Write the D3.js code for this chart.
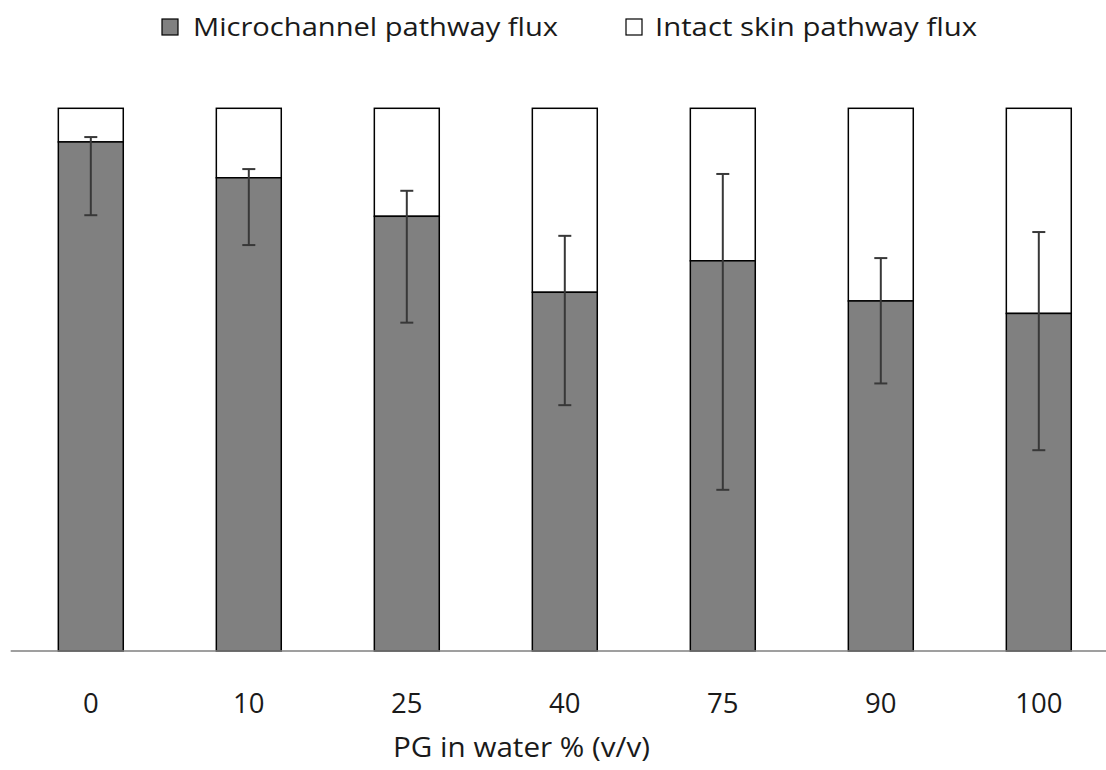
<!DOCTYPE html>
<html>
<head>
<meta charset="utf-8">
<script src="https://cdn.jsdelivr.net/npm/d3@7"></script>
<style>
  html, body { margin: 0; padding: 0; background: #fff; }
  svg { display: block; }
  text { font-family: "Open Sans", "Noto Sans", sans-serif; fill: #1a1a1a; }
</style>
</head>
<body>
<svg id="chart" width="1106" height="770"></svg>
<script>
// ---- data (percent of total flux) ----
const categories = ["0", "10", "25", "40", "75", "90", "100"];
const microchannel = [93.8, 87.2, 80.1, 66.1, 71.9, 64.5, 62.2];
const intactSkin = microchannel.map(v => 100 - v);
const errUpper = [94.7, 88.8, 84.8, 76.5, 87.9, 72.4, 77.2];
const errLower = [80.3, 74.8, 60.5, 45.3, 29.7, 49.3, 37.0];
const seriesNames = ["Microchannel pathway flux", "Intact skin pathway flux"];
const xTitle = "PG in water % (v/v)";

const svg = d3.select("#chart");

const x = d3.scaleBand()
  .domain(categories)
  .range([11.8, 1117.8])
  .paddingInner(0.589)
  .paddingOuter(0.2945);

const y = d3.scaleLinear().domain([0, 100]).range([651, 108.3]);

const data = categories.map((c, i) => ({
  cat: c, micro: microchannel[i], intact: intactSkin[i], hi: errUpper[i], lo: errLower[i]
}));

// intact (top, white) segments
svg.append("g").selectAll("rect")
  .data(data).join("rect")
  .attr("x", d => x(d.cat))
  .attr("width", x.bandwidth())
  .attr("y", d => y(d.micro + d.intact))
  .attr("height", d => y(d.micro) - y(d.micro + d.intact))
  .attr("fill", "#ffffff")
  .attr("stroke", "#000")
  .attr("stroke-width", 1.5);

// microchannel (bottom, gray) segments
svg.append("g").selectAll("rect")
  .data(data).join("rect")
  .attr("x", d => x(d.cat))
  .attr("width", x.bandwidth())
  .attr("y", d => y(d.micro))
  .attr("height", d => y(0) - y(d.micro))
  .attr("fill", "#808080")
  .attr("stroke", "#000")
  .attr("stroke-width", 1.5);

// error bars
const eb = svg.append("g").attr("stroke", "#383838").attr("stroke-width", 2);
const cap = 6.5;
data.forEach(d => {
  const cx = x(d.cat) + x.bandwidth() / 2;
  eb.append("line").attr("x1", cx).attr("x2", cx).attr("y1", y(d.hi)).attr("y2", y(d.lo));
  eb.append("line").attr("x1", cx - cap).attr("x2", cx + cap).attr("y1", y(d.hi)).attr("y2", y(d.hi));
  eb.append("line").attr("x1", cx - cap).attr("x2", cx + cap).attr("y1", y(d.lo)).attr("y2", y(d.lo));
});

// x axis
const xAxis = d3.axisBottom(x).tickSize(0).tickPadding(0);
const gx = svg.append("g").attr("transform", `translate(0, ${y(0)})`).call(xAxis);
gx.select(".domain").remove();
gx.selectAll("text")
  .attr("y", 62)
  .attr("dy", 0)
  .style("font-family", "'Open Sans', sans-serif")
  .style("font-size", "27.5px")
  .style("fill", "#1a1a1a");
svg.append("line")
  .attr("x1", 10.7).attr("x2", 1106)
  .attr("y1", y(0)).attr("y2", y(0))
  .attr("stroke", "#7f7f7f").attr("stroke-width", 1.5);

// x title
svg.append("text")
  .attr("x", 393).attr("y", 757)
  .attr("textLength", 257).attr("lengthAdjust", "spacingAndGlyphs")
  .style("font-size", "26.5px")
  .text(xTitle);

// legend
const legend = [
  { name: seriesNames[0], fill: "#808080", sx: 162, tx: 193, tw: 365 },
  { name: seriesNames[1], fill: "#ffffff", sx: 626, tx: 655, tw: 322 }
];
const lg = svg.append("g");
legend.forEach(l => {
  lg.append("rect").attr("x", l.sx).attr("y", 19).attr("width", 16).attr("height", 16)
    .attr("fill", l.fill).attr("stroke", "#000").attr("stroke-width", 1.2);
  lg.append("text").attr("x", l.tx).attr("y", 36)
    .attr("textLength", l.tw).attr("lengthAdjust", "spacingAndGlyphs")
    .style("font-size", "25px")
    .text(l.name);
});
</script>
</body>
</html>
